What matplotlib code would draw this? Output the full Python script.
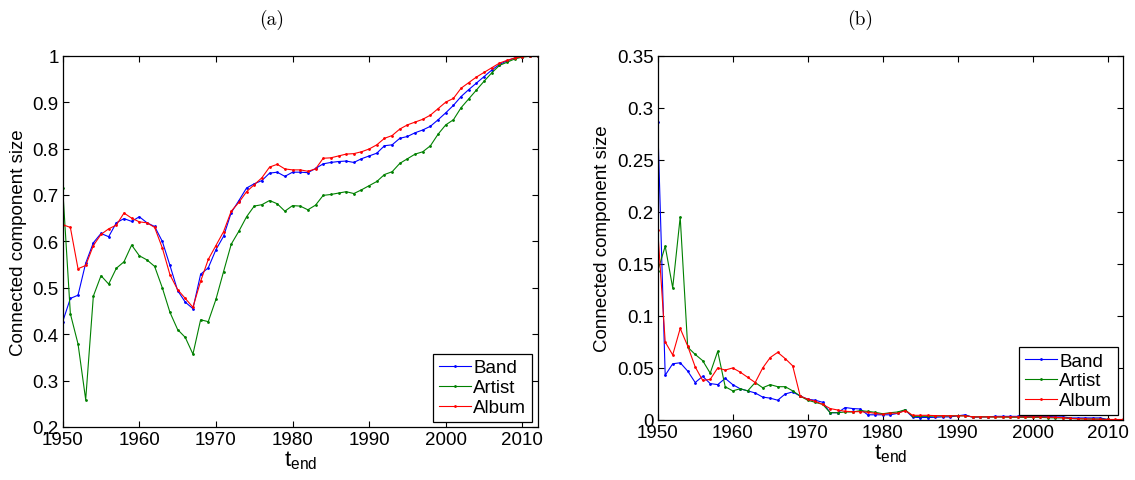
import matplotlib
matplotlib.use("Agg")
import matplotlib.pyplot as plt
import numpy as np

plt.rcParams['font.family'] = ['Liberation Sans', 'DejaVu Sans']
plt.rcParams['mathtext.default'] = 'regular'

years = list(range(1950, 2013))

# Panel (a): connected component size
band_a = [0.427, 0.477, 0.484, 0.553, 0.597, 0.617, 0.610, 0.640, 0.649, 0.643,
          0.653, 0.640, 0.632, 0.600, 0.548, 0.494, 0.469, 0.455, 0.529, 0.543,
          0.582, 0.611, 0.662, 0.688, 0.715, 0.724, 0.731, 0.747, 0.749, 0.740,
          0.749, 0.749, 0.748, 0.757, 0.767, 0.770, 0.772, 0.773, 0.770, 0.778,
          0.784, 0.790, 0.806, 0.808, 0.822, 0.826, 0.834, 0.840, 0.848, 0.862,
          0.877, 0.893, 0.912, 0.927, 0.941, 0.955, 0.969, 0.981, 0.989, 0.995,
          0.998, 1.000, 1.000]
artist_a = [0.714, 0.444, 0.379, 0.259, 0.482, 0.526, 0.508, 0.542, 0.556, 0.592,
            0.569, 0.560, 0.546, 0.500, 0.447, 0.410, 0.393, 0.357, 0.431, 0.427,
            0.475, 0.535, 0.594, 0.622, 0.653, 0.676, 0.679, 0.688, 0.681, 0.665,
            0.677, 0.676, 0.668, 0.678, 0.699, 0.701, 0.704, 0.707, 0.703, 0.711,
            0.720, 0.729, 0.744, 0.750, 0.768, 0.778, 0.788, 0.793, 0.806, 0.831,
            0.851, 0.862, 0.888, 0.907, 0.926, 0.945, 0.963, 0.979, 0.986, 0.993,
            0.997, 0.999, 1.000]
album_a = [0.636, 0.630, 0.541, 0.548, 0.591, 0.615, 0.627, 0.635, 0.661, 0.650,
           0.642, 0.640, 0.630, 0.586, 0.528, 0.496, 0.477, 0.458, 0.514, 0.561,
           0.591, 0.621, 0.665, 0.684, 0.707, 0.722, 0.737, 0.760, 0.766, 0.756,
           0.754, 0.754, 0.751, 0.756, 0.779, 0.780, 0.784, 0.788, 0.789, 0.793,
           0.799, 0.808, 0.822, 0.828, 0.842, 0.851, 0.857, 0.863, 0.872, 0.886,
           0.900, 0.908, 0.930, 0.942, 0.954, 0.964, 0.974, 0.984, 0.990, 0.995,
           0.998, 0.999, 1.000]

# Panel (b)
band_b = [0.286, 0.043, 0.054, 0.055, 0.047, 0.036, 0.042, 0.035, 0.034, 0.040,
          0.034, 0.030, 0.028, 0.026, 0.022, 0.021, 0.019, 0.025, 0.027, 0.023,
          0.020, 0.019, 0.017, 0.007, 0.007, 0.012, 0.011, 0.0106, 0.005, 0.005,
          0.005, 0.005, 0.0064, 0.0096, 0.0026, 0.0024, 0.0024, 0.0026, 0.003, 0.003,
          0.004, 0.005, 0.0026, 0.003, 0.003, 0.0035, 0.0035, 0.0035, 0.0035, 0.0035,
          0.0035, 0.0035, 0.0035, 0.003, 0.003, 0.002, 0.002, 0.002, 0.002, 0.002,
          0.0005, 0.0003, 0.0002]
artist_b = [0.143, 0.167, 0.127, 0.195, 0.070, 0.063, 0.057, 0.045, 0.066, 0.032,
            0.028, 0.030, 0.028, 0.036, 0.031, 0.034, 0.032, 0.032, 0.028, 0.023,
            0.019, 0.017, 0.015, 0.007, 0.007, 0.0077, 0.0077, 0.009, 0.0083, 0.0074,
            0.006, 0.007, 0.0077, 0.0099, 0.0035, 0.0035, 0.0035, 0.0038, 0.0038, 0.004,
            0.004, 0.004, 0.003, 0.003, 0.003, 0.0028, 0.0028, 0.0026, 0.0026, 0.0025,
            0.0025, 0.0025, 0.0022, 0.002, 0.002, 0.0015, 0.0012, 0.001, 0.001, 0.0008,
            0.0005, 0.0003, 0.0002]
album_b = [0.183, 0.075, 0.0625, 0.088, 0.071, 0.051, 0.038, 0.039, 0.050, 0.048,
           0.050, 0.046, 0.041, 0.036, 0.050, 0.060, 0.065, 0.059, 0.052, 0.023,
           0.020, 0.018, 0.015, 0.011, 0.0096, 0.0083, 0.008, 0.008, 0.0074, 0.0064,
           0.0054, 0.0067, 0.0064, 0.009, 0.0045, 0.0045, 0.0045, 0.0042, 0.0042, 0.004,
           0.004, 0.004, 0.003, 0.003, 0.003, 0.003, 0.003, 0.003, 0.003, 0.003,
           0.003, 0.003, 0.0028, 0.0025, 0.0022, 0.0015, 0.0012, 0.001, 0.0008, 0.0008,
           0.0005, 0.0005, 0.0005]

labels = ['Band', 'Artist', 'Album']
colors = ['#0000ff', '#008000', '#ff0000']

W, H = 1135, 481
fig = plt.figure(figsize=(W / 100, H / 100), dpi=100)

def px_axes(x0, y0, x1, y1):
    return fig.add_axes([x0 / W, 1 - y1 / H, (x1 - x0) / W, (y1 - y0) / H])

axA = px_axes(62.7, 56.7, 537.7, 428)
axB = px_axes(657.7, 56.7, 1122.7, 421)

FS = 13.5

def style(ax):
    ax.tick_params(direction='in', top=True, right=True, length=4.5, width=0.8,
                   labelsize=FS, pad=3)
    for s in ax.spines.values():
        s.set_linewidth(0.9)
        s.set_color('black')
    ax.set_xlim(1950, 2012)
    ax.set_xticks(range(1950, 2011, 10))
    ax.set_ylabel('Connected component size', fontsize=FS, labelpad=4)
    ax.set_xlabel(r'$t_{end}$', fontsize=16, labelpad=0)

for ax, series in ((axA, (band_a, artist_a, album_a)), (axB, (band_b, artist_b, album_b))):
    for vals, lab, c in zip(series, labels, colors):
        ax.plot(years, vals, color=c, lw=0.8, marker='.', markersize=2, label=lab)
    style(ax)

axA.set_ylim(0.2, 1.0)
axA.set_yticks(np.arange(0.2, 1.01, 0.1))
axA.set_yticklabels(['0.2', '0.3', '0.4', '0.5', '0.6', '0.7', '0.8', '0.9', '1'])
axB.set_ylim(0, 0.35)
axB.set_yticks(np.arange(0, 0.351, 0.05))
axB.set_yticklabels(['0', '0.05', '0.1', '0.15', '0.2', '0.25', '0.3', '0.35'])

for ax, anchor in ((axA, (0.988, 0.0135)), (axB, (0.990, 0.0137))):
    leg = ax.legend(loc='lower right', bbox_to_anchor=anchor, borderaxespad=0,
                    fontsize=FS, fancybox=False, framealpha=1, edgecolor='black',
                    handlelength=1.7, handletextpad=0.15, labelspacing=0.15,
                    borderpad=0.3, markerscale=1.0)
    leg.get_frame().set_linewidth(0.9)

fig.text(272 / W, 1 - 20 / H, '(a)', family='cmr10', fontsize=14, ha='center', va='center')
fig.text(860 / W, 1 - 20 / H, '(b)', family='cmr10', fontsize=14, ha='center', va='center')

fig.savefig('out.png', dpi=100)
